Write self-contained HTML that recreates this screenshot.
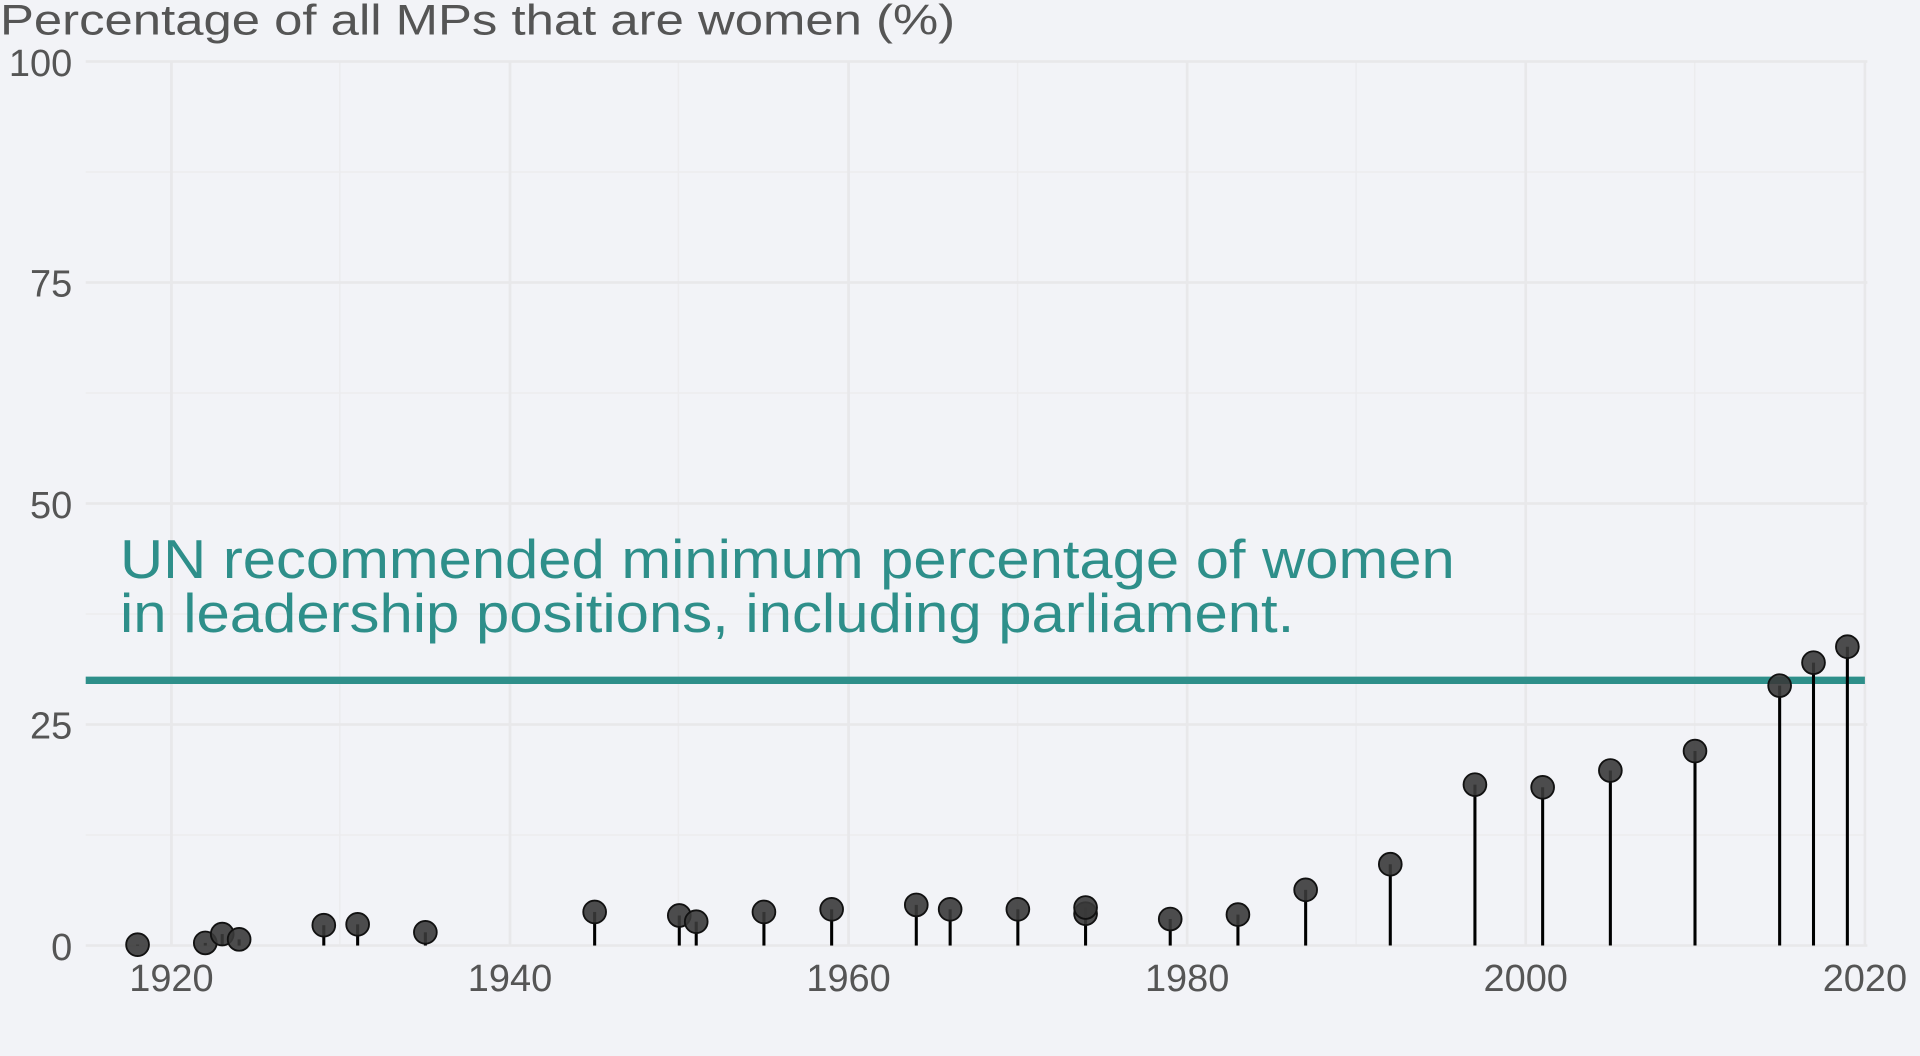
<!DOCTYPE html>
<html><head><meta charset="utf-8"><style>
html,body{margin:0;padding:0;background:#f2f3f7;}
svg{display:block;font-family:"Liberation Sans",sans-serif;}
</style></head><body>
<svg width="1920" height="1056" viewBox="0 0 1568 862" xmlns="http://www.w3.org/2000/svg">
<rect width="1568" height="862" fill="#f2f3f7"/>
<g stroke="#ececee" stroke-width="1.2">
<line x1="70" x2="1523" y1="681.75" y2="681.75"/>
<line x1="70" x2="1523" y1="501.25" y2="501.25"/>
<line x1="70" x2="1523" y1="320.75" y2="320.75"/>
<line x1="70" x2="1523" y1="140.25" y2="140.25"/>
<line x1="277.5" x2="277.5" y1="50" y2="772"/>
<line x1="554" x2="554" y1="50" y2="772"/>
<line x1="831" x2="831" y1="50" y2="772"/>
<line x1="1107.5" x2="1107.5" y1="50" y2="772"/>
<line x1="1384" x2="1384" y1="50" y2="772"/>
</g>
<g stroke="#e8e8ea" stroke-width="2.2">
<line x1="70" x2="1525" y1="772" y2="772"/>
<line x1="70" x2="1525" y1="591.5" y2="591.5"/>
<line x1="70" x2="1525" y1="411" y2="411"/>
<line x1="70" x2="1525" y1="230.5" y2="230.5"/>
<line x1="70" x2="1525" y1="50" y2="50"/>
<line x1="140" x2="140" y1="50" y2="772"/>
<line x1="416.5" x2="416.5" y1="50" y2="772"/>
<line x1="693" x2="693" y1="50" y2="772"/>
<line x1="969.5" x2="969.5" y1="50" y2="772"/>
<line x1="1246" x2="1246" y1="50" y2="772"/>
<line x1="1523" x2="1523" y1="50" y2="772"/>
</g>
<g fill="#555" font-size="31">
<text x="0" y="28" font-size="35" textLength="780" lengthAdjust="spacingAndGlyphs">Percentage of all MPs that are women (%)</text>
<text x="59" y="62" text-anchor="end">100</text>
<text x="59" y="242" text-anchor="end">75</text>
<text x="59" y="423" text-anchor="end">50</text>
<text x="59" y="603" text-anchor="end">25</text>
<text x="59" y="784" text-anchor="end">0</text>
<text x="140" y="809" text-anchor="middle">1920</text>
<text x="416.5" y="809" text-anchor="middle">1940</text>
<text x="693" y="809" text-anchor="middle">1960</text>
<text x="969.5" y="809" text-anchor="middle">1980</text>
<text x="1246" y="809" text-anchor="middle">2000</text>
<text x="1523" y="809" text-anchor="middle">2020</text>
</g>
<g fill="#2e8f8a" font-size="45">
<text x="98" y="472" textLength="1090" lengthAdjust="spacingAndGlyphs">UN recommended minimum percentage of women</text>
<text x="98" y="516" textLength="959" lengthAdjust="spacingAndGlyphs">in leadership positions, including parliament.</text>
</g>
<line x1="70" x2="1523" y1="555.4" y2="555.4" stroke="#2e8f8a" stroke-width="6"/>
<g stroke="#000" stroke-width="2.5">
<line x1="112.35" x2="112.35" y1="772" y2="771.28"/>
<line x1="167.65" x2="167.65" y1="772" y2="769.83"/>
<line x1="181.48" x2="181.48" y1="772" y2="762.61"/>
<line x1="195.3" x2="195.3" y1="772" y2="766.95"/>
<line x1="264.43" x2="264.43" y1="772" y2="755.39"/>
<line x1="292.08" x2="292.08" y1="772" y2="754.67"/>
<line x1="347.38" x2="347.38" y1="772" y2="761.17"/>
<line x1="485.63" x2="485.63" y1="772" y2="744.56"/>
<line x1="554.75" x2="554.75" y1="772" y2="747.45"/>
<line x1="568.58" x2="568.58" y1="772" y2="752.51"/>
<line x1="623.88" x2="623.88" y1="772" y2="744.56"/>
<line x1="679.18" x2="679.18" y1="772" y2="742.4"/>
<line x1="748.3" x2="748.3" y1="772" y2="738.79"/>
<line x1="775.95" x2="775.95" y1="772" y2="742.4"/>
<line x1="831.25" x2="831.25" y1="772" y2="742.4"/>
<line x1="886.55" x2="886.55" y1="772" y2="740.95"/>
<line x1="955.68" x2="955.68" y1="772" y2="750.34"/>
<line x1="1010.98" x2="1010.98" y1="772" y2="746.73"/>
<line x1="1066.28" x2="1066.28" y1="772" y2="726.51"/>
<line x1="1135.4" x2="1135.4" y1="772" y2="705.58"/>
<line x1="1204.53" x2="1204.53" y1="772" y2="640.6"/>
<line x1="1259.83" x2="1259.83" y1="772" y2="642.76"/>
<line x1="1315.13" x2="1315.13" y1="772" y2="629.04"/>
<line x1="1384.25" x2="1384.25" y1="772" y2="613.16"/>
<line x1="1453.38" x2="1453.38" y1="772" y2="559.73"/>
<line x1="1481.03" x2="1481.03" y1="772" y2="540.96"/>
<line x1="1508.68" x2="1508.68" y1="772" y2="527.96"/>
</g>
<g fill="#3a3a3a" fill-opacity="0.9" stroke="#111" stroke-width="1.5">
<circle cx="112.35" cy="771.28" r="9.3"/>
<circle cx="167.65" cy="769.83" r="9.3"/>
<circle cx="181.48" cy="762.61" r="9.3"/>
<circle cx="195.3" cy="766.95" r="9.3"/>
<circle cx="264.43" cy="755.39" r="9.3"/>
<circle cx="292.08" cy="754.67" r="9.3"/>
<circle cx="347.38" cy="761.17" r="9.3"/>
<circle cx="485.63" cy="744.56" r="9.3"/>
<circle cx="554.75" cy="747.45" r="9.3"/>
<circle cx="568.58" cy="752.51" r="9.3"/>
<circle cx="623.88" cy="744.56" r="9.3"/>
<circle cx="679.18" cy="742.4" r="9.3"/>
<circle cx="748.3" cy="738.79" r="9.3"/>
<circle cx="775.95" cy="742.4" r="9.3"/>
<circle cx="831.25" cy="742.4" r="9.3"/>
<circle cx="886.55" cy="746.01" r="9.3"/>
<circle cx="886.55" cy="740.95" r="9.3"/>
<circle cx="955.68" cy="750.34" r="9.3"/>
<circle cx="1010.98" cy="746.73" r="9.3"/>
<circle cx="1066.28" cy="726.51" r="9.3"/>
<circle cx="1135.4" cy="705.58" r="9.3"/>
<circle cx="1204.53" cy="640.6" r="9.3"/>
<circle cx="1259.83" cy="642.76" r="9.3"/>
<circle cx="1315.13" cy="629.04" r="9.3"/>
<circle cx="1384.25" cy="613.16" r="9.3"/>
<circle cx="1453.38" cy="559.73" r="9.3"/>
<circle cx="1481.03" cy="540.96" r="9.3"/>
<circle cx="1508.68" cy="527.96" r="9.3"/>
</g>
</svg>
</body></html>
